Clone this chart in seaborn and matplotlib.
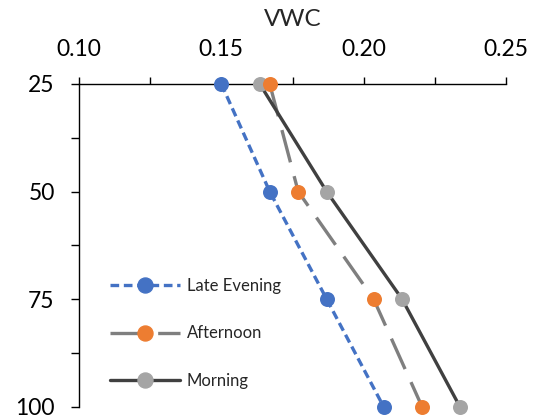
import matplotlib
matplotlib.use("Agg")
import matplotlib.pyplot as plt
import seaborn as sns
import pandas as pd
from matplotlib.lines import Line2D
from matplotlib.ticker import MultipleLocator, FormatStrFormatter

# Soil depth and volumetric water content per time of day
depth = [25, 50, 75, 100]
late_evening = [0.150, 0.167, 0.187, 0.207]
afternoon = [0.167, 0.177, 0.2035, 0.2205]
morning = [0.1635, 0.187, 0.2135, 0.2338]
series_names = ["Late Evening", "Afternoon", "Morning"]
x_ticks = [0.10, 0.15, 0.20, 0.25]
y_ticks = [25, 50, 75, 100]

df = pd.DataFrame({
    "Depth": depth * 3,
    "VWC": late_evening + afternoon + morning,
    "Series": sum([[n] * len(depth) for n in series_names], []),
})

style = {
    "Late Evening": dict(line="#4472C4", marker="#4472C4", ls=(0, (2.6, 1.4)), lz=2.1, mz=3.1),
    "Afternoon": dict(line="#7F7F7F", marker="#ED7D31", ls=(0, (10, 4.3)), lz=2.2, mz=3.3),
    "Morning": dict(line="#404040", marker="#A5A5A5", ls="-", lz=2.3, mz=3.2),
}

sns.set_style("ticks")
plt.rcParams["font.family"] = ["Lato", "DejaVu Sans"]

fig = plt.figure(figsize=(5.4, 4.17), dpi=100)
ax = fig.add_axes([79 / 540, 1 - 406.7 / 417, 427 / 540, (406.7 - 84) / 417])

LW = 2.4
MS = 10.8
handles = []
for name in series_names:
    st = style[name]
    sub = df[df["Series"] == name]
    sns.lineplot(data=sub, x="VWC", y="Depth", sort=False, color=st["line"],
                 linewidth=LW, linestyle=st["ls"], zorder=st["lz"], ax=ax,
                 legend=False)
    sns.scatterplot(data=sub, x="VWC", y="Depth", color=st["marker"],
                    s=MS ** 2, linewidth=0, zorder=st["mz"], clip_on=False,
                    ax=ax, legend=False)
    handles.append(Line2D([], [], color=st["line"], linewidth=LW, linestyle=st["ls"],
                          marker="o", markersize=MS, markerfacecolor=st["marker"],
                          markeredgecolor=st["marker"], label=name))

ax.set_xlim(0.10, 0.25)
ax.set_ylim(100, 25)
ax.xaxis.tick_top()
ax.xaxis.set_label_position("top")
ax.set_xticks(x_ticks)
ax.set_yticks(y_ticks)
ax.xaxis.set_major_formatter(FormatStrFormatter("%.2f"))
ax.xaxis.set_minor_locator(MultipleLocator(0.025))
ax.yaxis.set_minor_locator(MultipleLocator(12.5))
ax.set_xlabel("VWC", fontsize=17.5, labelpad=10)
ax.set_ylabel("")

for side in ["right", "bottom"]:
    ax.spines[side].set_visible(False)
for side in ["top", "left"]:
    ax.spines[side].set_color("black")
    ax.spines[side].set_linewidth(1.0)

ax.tick_params(axis="x", which="both", direction="out", length=5, width=1.0,
               color="black", top=True, bottom=False)
ax.tick_params(axis="x", which="major", labelsize=16.5, pad=12, labelcolor="black")
ax.tick_params(axis="y", which="both", direction="out", length=5.5, width=1.0,
               color="black")
ax.tick_params(axis="y", which="major", labelsize=16.5, pad=12, labelcolor="black")

ax.legend(handles=handles, loc="center left",
          bbox_to_anchor=(110 / 540, 1 - 333.5 / 417), bbox_transform=fig.transFigure,
          frameon=False, fontsize=12, handlelength=4.2, handletextpad=0.4,
          labelspacing=1.9, borderpad=0, borderaxespad=0)

fig.savefig("out.png", dpi=100)
